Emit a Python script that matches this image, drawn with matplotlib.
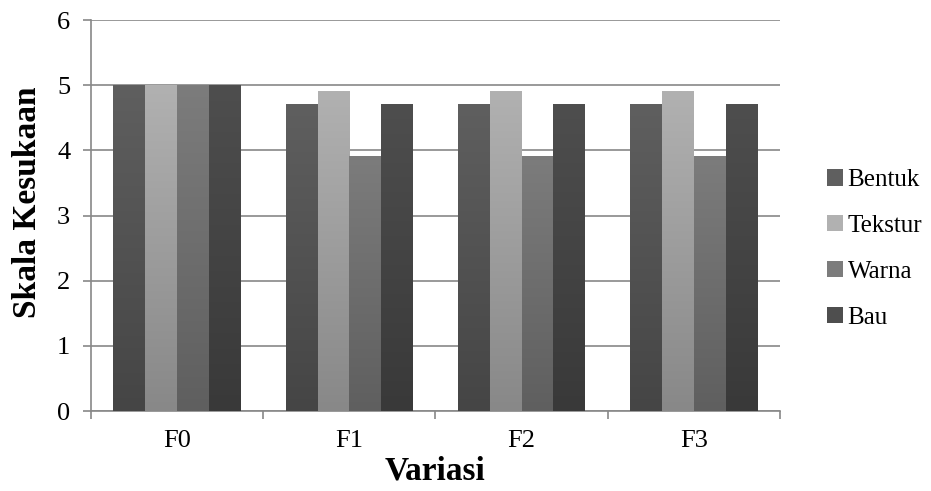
import numpy as np
import matplotlib.pyplot as plt
from matplotlib.colors import LinearSegmentedColormap

plt.rcParams['font.family'] = ['Liberation Serif', 'DejaVu Serif']

categories = ['F0', 'F1', 'F2', 'F3']
series = ['Bentuk', 'Tekstur', 'Warna', 'Bau']
bentuk = [5, 4.7, 4.7, 4.7]
tekstur = [5, 4.9, 4.9, 4.9]
warna = [5, 3.9, 3.9, 3.9]
bau = [5, 4.7, 4.7, 4.7]
values = [bentuk, tekstur, warna, bau]

# top / bottom shades of the vertical gradient
tops = ['#5f5f5f', '#b1b1b1', '#7c7c7c', '#4e4e4e']
bottoms = ['#454545', '#888888', '#5f5f5f', '#393939']

fig = plt.figure(figsize=(9.31, 4.91), dpi=100)
ax = fig.add_axes([91/931, 80/491, 689/931, 391/491])

x = np.arange(len(categories))
width = 0.185
offsets = (np.arange(4) - 1.5) * width

grad = np.linspace(1, 0, 256).reshape(-1, 1)
for i, name in enumerate(series):
    bars = ax.bar(x + offsets[i], values[i], width, color=tops[i], label=name,
                  zorder=2, linewidth=0)
    cmap = LinearSegmentedColormap.from_list(name, [bottoms[i], tops[i]])
    for b in bars:
        x0, y0 = b.get_x(), b.get_y()
        ax.imshow(grad, extent=(x0, x0 + b.get_width(), y0, y0 + b.get_height()),
                  cmap=cmap, aspect='auto', zorder=3, vmin=0, vmax=1)

ax.set_xlim(-0.5, 3.5)
ax.set_ylim(0, 6)
ax.set_xticks(x)
ax.set_xticklabels(categories)
ax.set_xticks(np.arange(-0.5, 4, 1), minor=True)
ax.tick_params(axis='x', which='major', length=0, labelsize=19, pad=14)
ax.tick_params(axis='x', which='minor', length=6, color='#888888', width=1.2)
ax.set_yticks(range(7))
ax.tick_params(axis='y', length=6, color='#888888', width=1.2, labelsize=19, pad=9)
ax.yaxis.grid(True, color='#888888', linewidth=1.2, zorder=0)
ax.set_axisbelow(True)
for s in ['top', 'right']:
    ax.spines[s].set_visible(False)
for s in ['left', 'bottom']:
    ax.spines[s].set_color('#888888')
    ax.spines[s].set_linewidth(1.2)

ax.set_xlabel('Variasi', fontsize=24, fontweight='bold', labelpad=2)
ax.set_ylabel('Skala Kesukaan', fontsize=24, fontweight='bold')
ax.yaxis.set_label_coords(-0.07, 0.535)

leg = fig.legend(loc='center left', bbox_to_anchor=(827/931, 1 - 249/491),
                 frameon=False, fontsize=18, handlelength=0.62, handleheight=0.62,
                 handletextpad=0.2, labelspacing=0.95, borderaxespad=0,
                 borderpad=0)

fig.savefig('out.png', dpi=100)
